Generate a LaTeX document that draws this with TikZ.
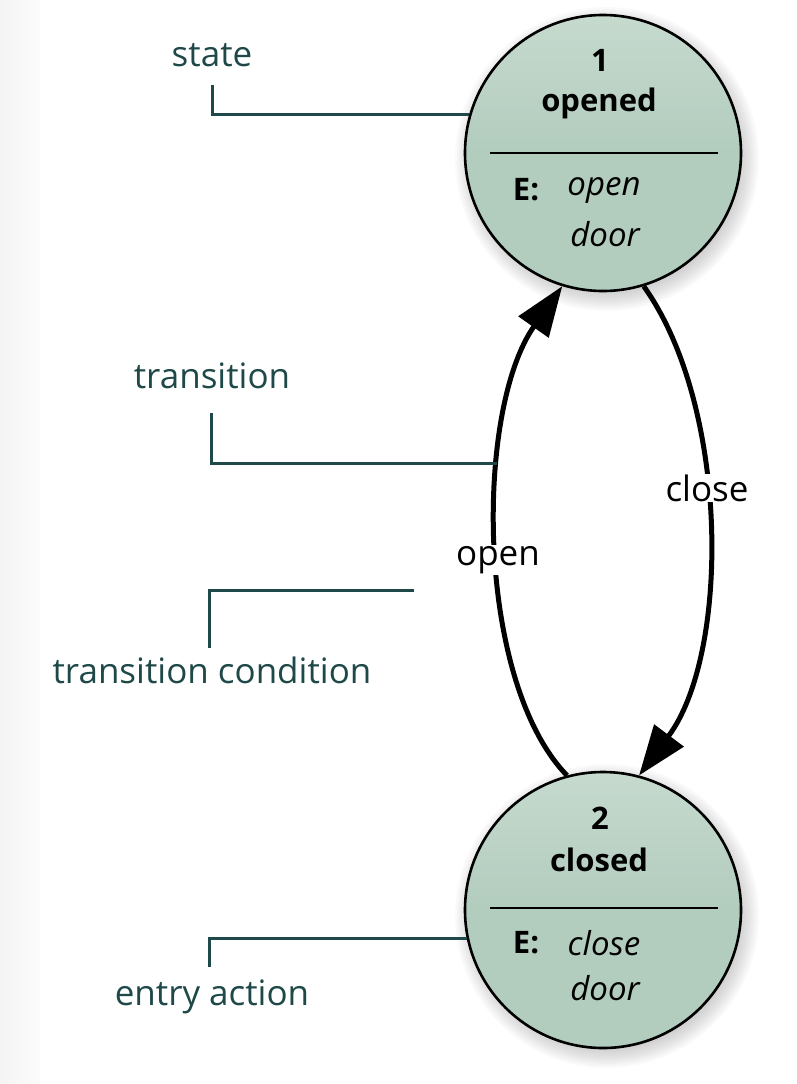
\documentclass[tikz,border=0pt]{standalone}
\usepackage{fontspec}
\setmainfont{Open Sans}
\usetikzlibrary{arrows.meta}
\definecolor{sage}{RGB}{178,204,190}
\definecolor{sagelight}{RGB}{198,218,206}
\definecolor{leadcol}{RGB}{31,72,72}
\pgfdeclarehorizontalshading{leftfade}{100bp}{color(0bp)=(black!5); color(15bp)=(black!5); color(45bp)=(black!3); color(100bp)=(white)}
\tikzset{
  statecirc/.style={circle, draw=black, line width=2.6pt, minimum size=276pt, inner sep=0pt,
    top color=sagelight, bottom color=sage, middle color=sage},
  sttext/.style={font=\fontsize{31}{34}\selectfont\bfseries, inner sep=0pt},
  acttext/.style={font=\fontsize{33}{36}\selectfont\itshape, inner sep=0pt},
  lbl/.style={font=\fontsize{35}{40}\selectfont, text=leadcol, inner sep=0pt},
  lead/.style={draw=leadcol, line width=3pt},
  trans/.style={draw=black, line width=5pt, -{Triangle[length=50pt,width=36pt]}},
  elabel/.style={font=\fontsize{35}{40}\selectfont, fill=white, inner sep=1pt},
  divider/.style={line width=2.6pt}
}
\begin{document}
\begin{tikzpicture}[x=1pt,y=-1pt]
\useasboundingbox (0,0) rectangle (796,1084);
\shade[shading=leftfade] (0,0) rectangle (40,1084);
% shadows
\foreach \cy in {153,910}{
  \foreach \r in {124,126,...,152}{
    \fill[black, opacity=0.018] (607,\cy+6) circle[radius=\r];
  }
}
% states
\node[statecirc] (a) at (603,153) {};
\node[statecirc] (b) at (603,910) {};
\draw[divider] ([xshift=-113pt]a.center) -- ([xshift=115pt]a.center);
\draw[divider] ([xshift=-113pt,yshift=2pt]b.center) -- ([xshift=115pt,yshift=2pt]b.center);
\node[sttext] (a1) at (600,60) {1};
\node[sttext] (a2) at (599,103) {opened};
\node[sttext] (aE) at (526,190) {E:};
\node[acttext] (aact) at (604,190) {open};
\node[acttext] (adoor) at (605,234) {door};
\node[sttext] (b1) at (600,818) {2};
\node[sttext] (b2) at (599,860) {closed};
\node[sttext] (bE) at (526,943) {E:};
\node[acttext] (bact) at (604,943) {close};
\node[acttext] (bdoor) at (605,988) {door};
% transitions
\draw[trans] (b.105) .. controls (475,680) and (475,410) .. (a.253);
\draw[trans] (a.287) .. controls (730,407) and (730,654) .. (b.75);
\node[elabel] (lopen) at (498,560) {open};
\node[elabel] (lclose) at (707,488) {close};
% annotations
\node[lbl] (lstate) at (212,55) {state};
\node[lbl] (ltrans) at (212,376) {transition};
\node[lbl] (lcond) at (212,670) {transition condition};
\node[lbl] (lentry) at (212,997) {entry action};
\coordinate (s0) at (212,85);
\coordinate (t0) at (211,413);
\coordinate (t1) at (497,463);
\coordinate (c0) at (209,648);
\coordinate (c1) at (414,590);
\coordinate (e0) at (209,967);
\draw[lead] (s0) |- (a.164);
\draw[lead] (t0) |- (t1);
\draw[lead] (c0) |- (c1);
\draw[lead] (e0) |- (b.192);
\end{tikzpicture}
\end{document}
